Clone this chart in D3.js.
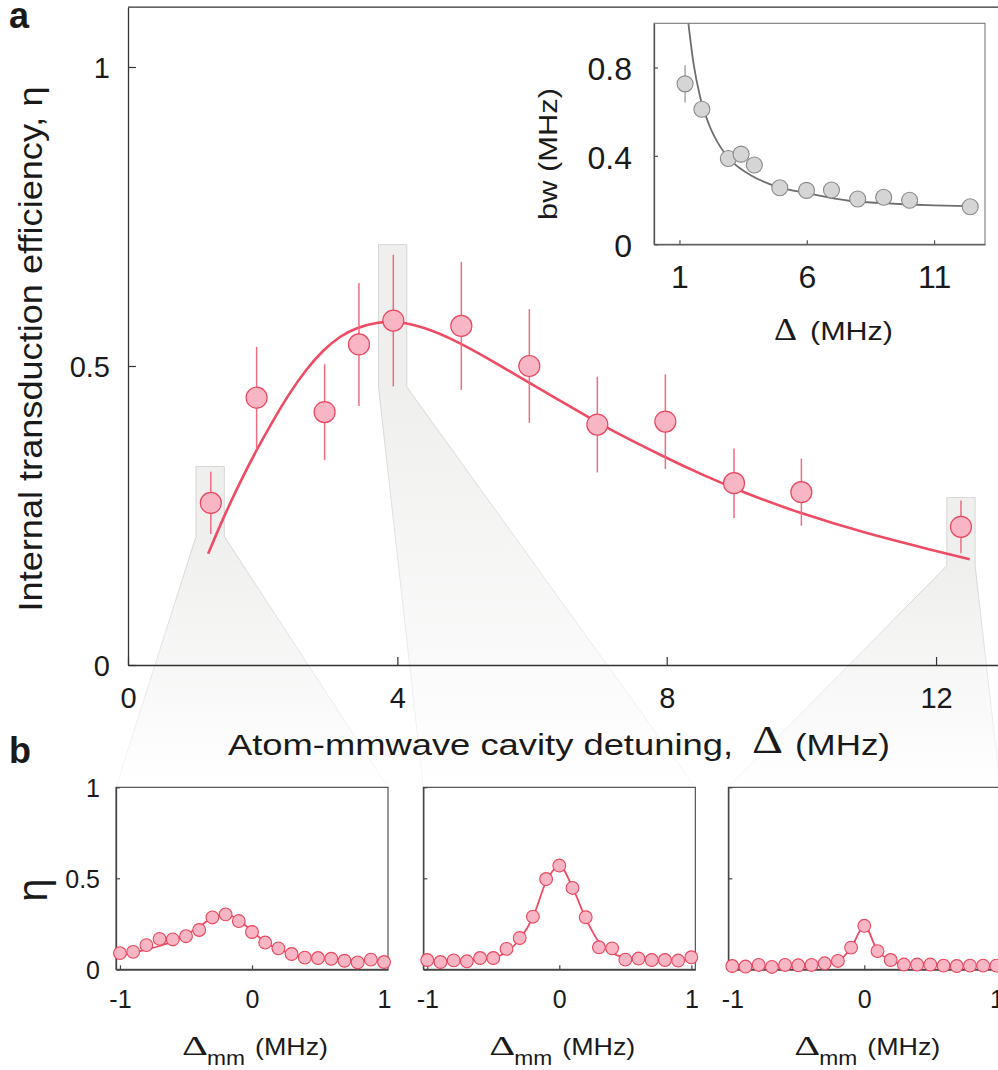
<!DOCTYPE html>
<html>
<head>
<meta charset="utf-8">
<script src="https://cdn.jsdelivr.net/npm/d3@7"></script>
<style>
  body { margin: 0; background: #fff; }
  svg { display: block; }
  text { font-family: "Liberation Sans", Arial, Helvetica, sans-serif; fill: #1a1a1a; }
</style>
</head>
<body>
<script>
// ---- panel a: efficiency vs atom-mmwave detuning ----
var detuning      = [1.23, 1.91, 2.92, 3.43, 3.94, 4.95, 5.96, 6.97, 7.98, 9.0, 10.0, 12.37];
var efficiency    = [0.271, 0.447, 0.423, 0.536, 0.576, 0.567, 0.500, 0.402, 0.407, 0.304, 0.289, 0.231];
var effError      = [0.052, 0.085, 0.080, 0.103, 0.110, 0.107, 0.095, 0.080, 0.079, 0.058, 0.056, 0.044];
var fitDetuning   = [1.19, 1.41, 1.66, 1.91, 2.16, 2.40, 2.65, 2.90, 3.15, 3.39, 3.69, 3.99, 4.38, 4.88, 5.37, 5.87, 6.81, 7.15, 7.98, 8.49, 9.15, 9.97, 10.96, 11.95, 12.5];
var fitEfficiency = [0.186, 0.245, 0.305, 0.360, 0.410, 0.455, 0.495, 0.527, 0.550, 0.564, 0.573, 0.575, 0.566, 0.542, 0.511, 0.478, 0.416, 0.394, 0.347, 0.320, 0.288, 0.254, 0.220, 0.192, 0.177];
var mainXTicks = [0, 4, 8, 12];
var mainYTicks = [0, 0.5, 1];

// ---- inset: bandwidth vs detuning ----
var bwDetuning = [1.22, 1.88, 2.92, 3.42, 3.94, 4.94, 5.99, 6.97, 8.0, 9.02, 10.04, 12.42];
var bandwidth  = [0.726, 0.611, 0.388, 0.408, 0.359, 0.256, 0.244, 0.246, 0.205, 0.213, 0.199, 0.170];
var bwError    = [0.084, 0, 0, 0, 0, 0, 0, 0, 0, 0, 0, 0];
var bwFitX     = [1.35, 1.55, 1.81, 2.14, 2.60, 3.13, 3.78, 4.83, 6.02, 7.72, 9.0, 10.0, 11.0, 12.7];
var bwFitY     = [1.0, 0.82, 0.668, 0.548, 0.442, 0.367, 0.314, 0.261, 0.231, 0.196, 0.186, 0.180, 0.176, 0.172];
var insetXTicks = [1, 6, 11];
var insetYTicks = [0, 0.4, 0.8];

// ---- highlighted points (zoomed into panel b) ----
var highlightCenter = [1.22, 3.93, 12.37];
var highlightTop    = [0.332, 0.703, 0.280];
var highlightBottom = [0.215, 0.465, 0.166];

// ---- panel b: efficiency vs mmwave detuning ----
var mmDetuning = [-1, -0.9, -0.8, -0.7, -0.6, -0.5, -0.4, -0.3, -0.2, -0.1, 0, 0.1, 0.2, 0.3, 0.4, 0.5, 0.6, 0.7, 0.8, 0.9, 1];
var panelEta = [
  [0.089, 0.096, 0.133, 0.167, 0.164, 0.182, 0.216, 0.285, 0.302, 0.265, 0.205, 0.147, 0.115, 0.084, 0.064, 0.062, 0.058, 0.047, 0.038, 0.053, 0.040],
  [0.051, 0.040, 0.049, 0.044, 0.062, 0.062, 0.112, 0.172, 0.289, 0.496, 0.570, 0.447, 0.286, 0.121, 0.115, 0.053, 0.059, 0.051, 0.051, 0.048, 0.066],
  [0.018, 0.015, 0.024, 0.013, 0.024, 0.022, 0.024, 0.033, 0.046, 0.119, 0.239, 0.100, 0.051, 0.026, 0.026, 0.026, 0.020, 0.018, 0.020, 0.020, 0.020]
];
var panelFit = [
  [0.075, 0.090, 0.108, 0.128, 0.155, 0.190, 0.235, 0.283, 0.305, 0.270, 0.210, 0.150, 0.110, 0.085, 0.070, 0.062, 0.056, 0.052, 0.050, 0.048, 0.046],
  [0.050, 0.050, 0.050, 0.051, 0.055, 0.063, 0.095, 0.165, 0.285, 0.480, 0.570, 0.450, 0.280, 0.150, 0.090, 0.065, 0.056, 0.052, 0.050, 0.050, 0.050],
  [0.018, 0.018, 0.018, 0.019, 0.020, 0.021, 0.024, 0.030, 0.046, 0.117, 0.239, 0.102, 0.050, 0.027, 0.022, 0.021, 0.020, 0.020, 0.020, 0.020, 0.020]
];
var panelXTicks = [-1, 0, 1];
var panelYTicks = [0, 0.5, 1];

var pinkFill = "#f8b6c4", pinkStroke = "#e9465f", pinkLine = "#ee4b64", pinkBar = "#ef6c81";

var svg = d3.select("body").append("svg").attr("width", 998).attr("height", 1070);
var defs = svg.append("defs");

var x = d3.scaleLinear().domain([0, 12.92]).range([128, 998]);
var y = d3.scaleLinear().domain([0, 1.1]).range([665, 7.2]);

var panelLeft = [116, 423.3, 728.3], panelW = 272, panelTop = 787.3, panelBottom = 969.3;
var px = panelLeft.map(function (l) { return d3.scaleLinear().domain([-1.03, 1.03]).range([l, l + panelW]); });
var py = d3.scaleLinear().domain([0, 1]).range([panelBottom, panelTop]);

function styleAxis(g, size, color) {
  g.attr("font-family", null).attr("font-size", null);
  g.select(".domain").attr("stroke", color).attr("stroke-width", 1.3);
  g.selectAll(".tick line").attr("stroke", color).attr("stroke-width", 1.2);
  g.selectAll(".tick text").attr("font-size", size).attr("fill", "#1a1a1a");
}

/* fans linking highlighted points to panel b */
highlightCenter.forEach(function (c, i) {
  var x0 = x(c - 0.21), x1 = x(c + 0.21), yt = y(highlightTop[i]), yb = y(highlightBottom[i]);
  var gf = defs.append("linearGradient").attr("id", "fanFill" + i)
    .attr("gradientUnits", "userSpaceOnUse").attr("x1", 0).attr("x2", 0).attr("y1", yb).attr("y2", panelTop);
  gf.append("stop").attr("offset", 0).attr("stop-color", "#efefee");
  gf.append("stop").attr("offset", 1).attr("stop-color", "#ffffff");
  var gs = defs.append("linearGradient").attr("id", "fanStroke" + i)
    .attr("gradientUnits", "userSpaceOnUse").attr("x1", 0).attr("x2", 0).attr("y1", yb).attr("y2", panelTop);
  gs.append("stop").attr("offset", 0).attr("stop-color", "#d6d6d6");
  gs.append("stop").attr("offset", 1).attr("stop-color", "#f6f6f6");
  var r = px[i].range();
  var pts = [[x0, yt], [x1, yt], [x1, yb], [r[1], panelTop], [r[0], panelTop], [x0, yb]];
  svg.append("path")
    .attr("d", d3.line()(pts) + "Z")
    .attr("fill", "url(#fanFill" + i + ")")
    .attr("stroke", "url(#fanStroke" + i + ")")
    .attr("stroke-width", 1);
});

/* panel a axes */
var gx = svg.append("g").attr("transform", "translate(0," + y(0) + ")")
  .call(d3.axisBottom(x).tickValues(mainXTicks).tickSize(-8).tickSizeOuter(0).tickPadding(22).tickFormat(String));
styleAxis(gx, 29, "#333");
var gy = svg.append("g").attr("transform", "translate(" + x(0) + ",0)")
  .call(d3.axisLeft(y).tickValues(mainYTicks).tickSize(-8).tickSizeOuter(0).tickPadding(18).tickFormat(String));
styleAxis(gy, 29, "#333");
gy.selectAll(".tick text").attr("dy", "0.36em");
svg.append("line").attr("x1", x(0)).attr("x2", x(12.92)).attr("y1", y(1.1)).attr("y2", y(1.1))
  .attr("stroke", "#333").attr("stroke-width", 1.3);

/* panel a data */
svg.append("path")
  .datum(fitDetuning.map(function (d, i) { return [d, fitEfficiency[i]]; }))
  .attr("d", d3.line().x(function (d) { return x(d[0]); }).y(function (d) { return y(d[1]); }).curve(d3.curveBasis))
  .attr("fill", "none").attr("stroke", pinkLine).attr("stroke-width", 2.6);

svg.append("g").selectAll("line").data(detuning).join("line")
  .attr("x1", function (d) { return x(d); }).attr("x2", function (d) { return x(d); })
  .attr("y1", function (d, i) { return y(efficiency[i] - effError[i]); })
  .attr("y2", function (d, i) { return y(efficiency[i] + effError[i]); })
  .attr("stroke", pinkBar).attr("stroke-width", 1.5);

svg.append("g").selectAll("circle").data(detuning).join("circle")
  .attr("cx", function (d) { return x(d); })
  .attr("cy", function (d, i) { return y(efficiency[i]); })
  .attr("r", 10.5).attr("fill", pinkFill).attr("stroke", pinkStroke).attr("stroke-width", 1.2);

/* panel a labels */
svg.append("text").attr("x", 9).attr("y", 28).attr("font-size", 36).attr("font-weight", "bold").text("a");
svg.append("text")
  .attr("transform", "translate(42,349) rotate(-90)")
  .attr("text-anchor", "middle").attr("font-size", 33)
  .attr("textLength", 525).attr("lengthAdjust", "spacingAndGlyphs")
  .text("Internal transduction efficiency, \u03b7");
svg.append("text").attr("x", 228).attr("y", 755).attr("font-size", 30)
  .attr("textLength", 505).attr("lengthAdjust", "spacingAndGlyphs")
  .text("Atom-mmwave cavity detuning,");
svg.append("text").attr("x", 752).attr("y", 753).attr("font-size", 41)
  .style("font-family", "'Liberation Serif', 'Times New Roman', serif")
  .attr("textLength", 31).attr("lengthAdjust", "spacingAndGlyphs").text("\u0394");
svg.append("text").attr("x", 795).attr("y", 755).attr("font-size", 29)
  .attr("textLength", 95).attr("lengthAdjust", "spacingAndGlyphs").text("(MHz)");

/* inset */
var xi = d3.scaleLinear().domain([0, 13]).range([654, 985]);
var yi = d3.scaleLinear().domain([0, 1]).range([244.3, 23.3]);
var inset = svg.append("g");
inset.append("rect").attr("x", xi(0)).attr("y", yi(1)).attr("width", xi(13) - xi(0)).attr("height", yi(0) - yi(1))
  .attr("fill", "#fff").attr("stroke", "#7a7a7a").attr("stroke-width", 1.1);
var gxi = inset.append("g").attr("transform", "translate(0," + yi(0) + ")")
  .call(d3.axisBottom(xi).tickValues(insetXTicks).tickSize(-4).tickSizeOuter(0).tickPadding(21).tickFormat(String));
styleAxis(gxi, 32, "#555");
var gyi = inset.append("g").attr("transform", "translate(" + xi(0) + ",0)")
  .call(d3.axisLeft(yi).tickValues(insetYTicks).tickSize(-4).tickSizeOuter(0).tickPadding(22).tickFormat(String));
styleAxis(gyi, 32, "#555");
gyi.selectAll(".tick text").attr("dy", "0.38em");

inset.append("path")
  .datum(bwFitX.map(function (d, i) { return [d, bwFitY[i]]; }))
  .attr("d", d3.line().x(function (d) { return xi(d[0]); }).y(function (d) { return yi(d[1]); }).curve(d3.curveMonotoneX))
  .attr("fill", "none").attr("stroke", "#6e6e6e").attr("stroke-width", 1.8);
inset.append("g").selectAll("line").data(bwDetuning.filter(function (d, i) { return bwError[i] > 0; }))
  .join("line")
  .attr("x1", function (d) { return xi(d); }).attr("x2", function (d) { return xi(d); })
  .attr("y1", function (d) { var i = bwDetuning.indexOf(d); return yi(bandwidth[i] - bwError[i]); })
  .attr("y2", function (d) { var i = bwDetuning.indexOf(d); return yi(bandwidth[i] + bwError[i]); })
  .attr("stroke", "#9a9a9a").attr("stroke-width", 1.3);
inset.append("g").selectAll("circle").data(bwDetuning).join("circle")
  .attr("cx", function (d) { return xi(d); })
  .attr("cy", function (d, i) { return yi(bandwidth[i]); })
  .attr("r", 8).attr("fill", "#d5d5d5").attr("stroke", "#8a8a8a").attr("stroke-width", 1.1);

inset.append("text")
  .attr("transform", "translate(557,154) rotate(-90)")
  .attr("text-anchor", "middle").attr("font-size", 25)
  .attr("textLength", 132).attr("lengthAdjust", "spacingAndGlyphs").text("bw (MHz)");
inset.append("text").attr("x", 774).attr("y", 340).attr("font-size", 31)
  .style("font-family", "'Liberation Serif', 'Times New Roman', serif")
  .attr("textLength", 23).attr("lengthAdjust", "spacingAndGlyphs").text("\u0394");
inset.append("text").attr("x", 810).attr("y", 340).attr("font-size", 25)
  .attr("textLength", 83).attr("lengthAdjust", "spacingAndGlyphs").text("(MHz)");

/* panel b */
svg.append("text").attr("x", 9).attr("y", 763).attr("font-size", 36).attr("font-weight", "bold").text("b");
svg.append("text").attr("transform", "translate(47,890) rotate(-90)")
  .attr("text-anchor", "middle").attr("font-size", 42).text("\u03b7");

panelLeft.forEach(function (l, p) {
  var sx = px[p];
  var g = svg.append("g");
  g.append("rect").attr("x", sx.range()[0]).attr("y", panelTop).attr("width", panelW).attr("height", panelBottom - panelTop)
    .attr("fill", "#fff").attr("stroke", "#333").attr("stroke-width", 1);
  var ax = g.append("g").attr("transform", "translate(0," + panelBottom + ")")
    .call(d3.axisBottom(sx).tickValues(panelXTicks).tickSize(-4).tickSizeOuter(0).tickPadding(21).tickFormat(String));
  styleAxis(ax, 25, "#444");
  ax.select(".domain").attr("stroke-width", 1.8);
  var ay = g.append("g").attr("transform", "translate(" + sx.range()[0] + ",0)")
    .call(d3.axisLeft(py).tickValues(panelYTicks).tickSize(-4).tickSizeOuter(0).tickPadding(16)
      .tickFormat(p === 0 ? String : function () { return ""; }));
  styleAxis(ay, 25, "#444");
  ay.selectAll(".tick text").attr("dy", "0.38em");

  g.append("path")
    .datum(mmDetuning.map(function (d, i) { return [d, panelFit[p][i]]; }))
    .attr("d", d3.line().x(function (d) { return sx(d[0]); }).y(function (d) { return py(d[1]); }).curve(d3.curveMonotoneX))
    .attr("fill", "none").attr("stroke", pinkLine).attr("stroke-width", 1.8);
  g.append("g").selectAll("circle").data(mmDetuning).join("circle")
    .attr("cx", function (d) { return sx(d); })
    .attr("cy", function (d, i) { return py(panelEta[p][i]); })
    .attr("r", 6.4).attr("fill", pinkFill).attr("stroke", pinkStroke).attr("stroke-width", 1.1);

  var lx = sx.range()[0];
  g.append("text").attr("x", lx + 66).attr("y", 1055).attr("font-size", 27)
    .style("font-family", "'Liberation Serif', 'Times New Roman', serif")
    .attr("textLength", 26).attr("lengthAdjust", "spacingAndGlyphs").text("\u0394");
  g.append("text").attr("x", lx + 91).attr("y", 1065).attr("font-size", 21)
    .attr("textLength", 38).attr("lengthAdjust", "spacingAndGlyphs").text("mm");
  g.append("text").attr("x", lx + 139).attr("y", 1055).attr("font-size", 24)
    .attr("textLength", 73).attr("lengthAdjust", "spacingAndGlyphs").text("(MHz)");
});
</script>
</body>
</html>
